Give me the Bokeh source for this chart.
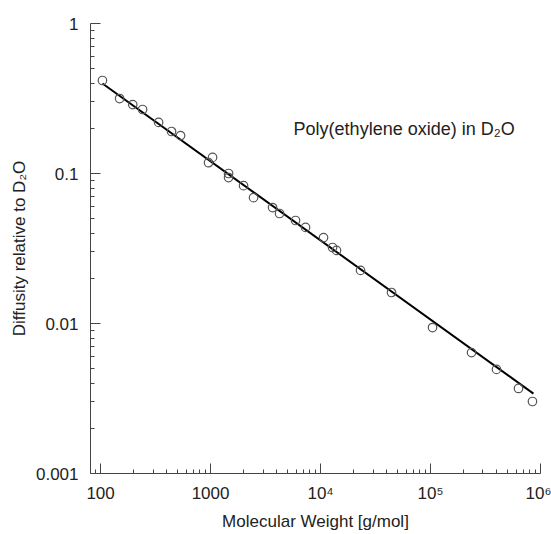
from bokeh.plotting import figure
from bokeh.models import Range1d, FixedTicker, Label
from bokeh.embed import file_html
from bokeh.resources import INLINE

# ---- data ----
mol_weight = [104, 149, 196, 241, 337, 442, 534, 959, 1043, 1458, 1458, 1995, 2460,
              3664, 4240, 5926, 7305, 10650, 12860, 13970, 23100, 44200, 104300,
              236000, 398000, 631000, 845000]
diffusity = [0.417, 0.316, 0.288, 0.267, 0.219, 0.1905, 0.179, 0.118, 0.128, 0.100,
             0.094, 0.083, 0.069, 0.0593, 0.0541, 0.0486, 0.0437, 0.0374, 0.0321,
             0.0307, 0.0226, 0.0161, 0.0094, 0.0064, 0.00494, 0.00369, 0.00302]
fit_mw = [104, 863000]
fit_d = [0.398, 0.00341]

x_ticks = [100, 1000, 10000, 100000, 1000000]
x_tick_labels = ["100", "1000", "10\u2074", "10\u2075", "10\u2076"]
y_ticks = [0.001, 0.01, 0.1, 1.0]
y_tick_labels = ["0.001", "0.01", "0.1", "1"]

FONT = "Liberation Sans"

p = figure(width=551, height=534, x_axis_type="log", y_axis_type="log",
           x_range=Range1d(81, 1e6), y_range=Range1d(0.001, 1),
           output_backend="svg", toolbar_location=None,
           min_border_left=90, min_border_right=11, min_border_top=23,
           min_border_bottom=61)
p.outline_line_color = None
p.grid.visible = False
p.background_fill_color = "white"
p.border_fill_color = "white"

x_minor = [m * 10 ** e for e in range(1, 6) for m in range(2, 10)]
y_minor = [m * 10.0 ** e for e in range(-3, 0) for m in range(2, 10)]
p.xaxis.ticker = FixedTicker(ticks=x_ticks, minor_ticks=x_minor)
p.yaxis.ticker = FixedTicker(ticks=y_ticks, minor_ticks=y_minor)
p.xaxis.major_label_overrides = dict(zip(x_ticks, x_tick_labels))
p.yaxis.major_label_overrides = dict(zip(y_ticks, y_tick_labels))

for ax in (p.xaxis, p.yaxis):
    ax.axis_line_color = "#444444"
    ax.major_tick_line_color = "#444444"
    ax.minor_tick_line_color = "#444444"
    ax.major_tick_in = 10
    ax.major_tick_out = 0
    ax.minor_tick_in = 4
    ax.minor_tick_out = 0
    ax.major_label_text_font = FONT
    ax.major_label_text_font_size = "17px"
    ax.major_label_text_color = "#222222"
    ax.axis_label_text_font = FONT
    ax.axis_label_text_font_size = "17px"
    ax.axis_label_text_font_style = "normal"
    ax.axis_label_text_color = "#222222"

p.xaxis.major_label_standoff = 10
p.yaxis.major_label_standoff = 12
p.xaxis.axis_label = "Molecular Weight [g/mol]"
p.yaxis.axis_label = "Diffusity relative to D\u2082O"
p.xaxis.axis_label_standoff = 6
p.yaxis.axis_label_standoff = 4

p.line(fit_mw, fit_d, line_color="black", line_width=2)
p.scatter(mol_weight, diffusity, marker="circle", size=8.5, fill_color=None,
          line_color="#555555", line_width=1.2)

p.add_layout(Label(x=5690, y=0.1995, text="Poly(ethylene oxide) in D\u2082O",
                   text_font=FONT, text_font_size="18px", text_color="#222222",
                   text_baseline="middle"))

open("out.html", "w").write(file_html(p, INLINE))
